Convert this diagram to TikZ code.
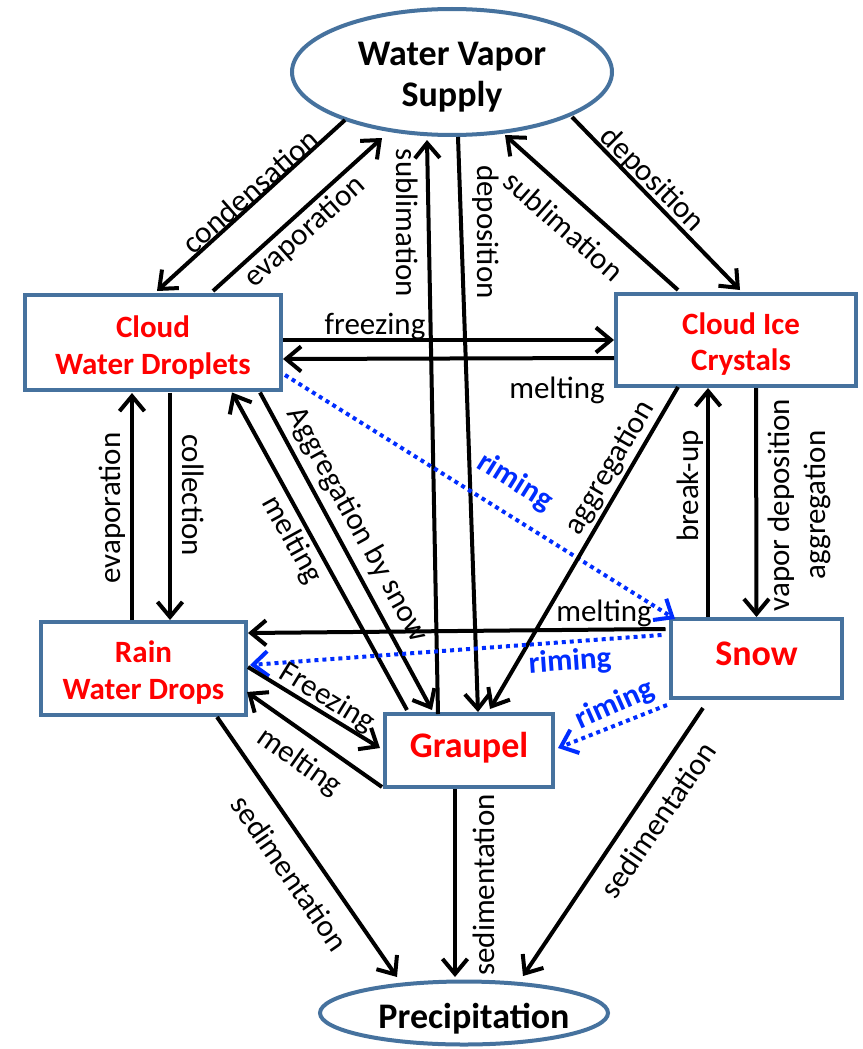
\documentclass[tikz,border=0pt]{standalone}
\usepackage{fontspec}
\setmainfont{Carlito}
\usetikzlibrary{arrows.meta,shapes.geometric}
\definecolor{bordercol}{RGB}{70,114,158}
\definecolor{rimeblue}{RGB}{0,45,255}
\definecolor{boxred}{RGB}{255,0,0}
\begin{document}
\begin{tikzpicture}[x=1pt,y=-1pt,
  conn/.style={line width=4pt, -{Straight Barb[length=15pt,width=25pt]}},
  rime/.style={conn, draw=rimeblue, dash pattern=on 4pt off 4pt},
  box/.style={draw=bordercol, line width=4pt, fill=white, inner sep=0pt},
  oval/.style={ellipse, draw=bordercol, line width=4pt, fill=white, inner sep=0pt},
  boxtext/.style={inner sep=0pt, align=center, text=boxred, font=\bfseries\fontsize{31}{36.5}\selectfont},
  bigtext/.style={inner sep=0pt, align=center, text=boxred, font=\bfseries\fontsize{36}{41}\selectfont},
  ovaltext/.style={inner sep=0pt, align=center, font=\bfseries\fontsize{36}{40.5}\selectfont},
  lab/.style={inner sep=0pt, font=\fontsize{31}{36}\selectfont},
  rlab/.style={inner sep=0pt, text=rimeblue, font=\bfseries\fontsize{31}{36}\selectfont}]
\fill[white] (0,0) rectangle (862,1049);
\useasboundingbox (0,0) rectangle (862,1049);

% shapes
\node[oval, minimum width=320pt, minimum height=126pt] (wvs) at (452,72) {};
\node[box, minimum width=256pt, minimum height=95pt] (cwd) at (153,342.5) {};
\node[box, minimum width=240pt, minimum height=92pt] (cic) at (736,340) {};
\node[box, minimum width=205pt, minimum height=93pt] (rwd) at (143.5,668.5) {};
\node[box, minimum width=171pt, minimum height=79pt] (snow) at (756.5,658.5) {};
\node[box, minimum width=168pt, minimum height=73pt] (gr) at (469,750.5) {};
\node[oval, minimum width=288pt, minimum height=63pt] (prec) at (464,1013) {};

% texts of the shapes
\node[ovaltext] (wvst) at ([shift={(0,5)}]wvs.center) {Water Vapor\\Supply};
\node[boxtext] (cwdt) at ([shift={(0,5)}]cwd.center) {Cloud\\Water Droplets};
\node[boxtext] (cict) at ([shift={(5,4)}]cic.center) {Cloud Ice\\Crystals};
\node[boxtext] (rwdt) at ([shift={(0,4)}]rwd.center) {Rain\\Water Drops};
\node[bigtext] (snowt) at ([shift={(0,-5)}]snow.center) {Snow};
\node[bigtext] (grt) at ([shift={(0,-2.5)}]gr.center) {Graupel};
\node[ovaltext] (prect) at ([shift={(10,6)}]prec.center) {Precipitation};

% connectors
\draw[conn] ([shift={(-107,48)}]wvs.center) -- ([shift={(4,-51.5)}]cwd.center);
\draw[conn] ([shift={(60,-51.5)}]cwd.center) -- ([shift={(-70,66)}]wvs.center);
\draw[conn] ([shift={(-31,-36.5)}]gr.center) -- ([shift={(-25,68)}]wvs.center);
\draw[conn] ([shift={(6,65)}]wvs.center) -- ([shift={(9,-38.5)}]gr.center);
\draw[conn] ([shift={(-58,-50)}]cic.center) -- ([shift={(53,63)}]wvs.center);
\draw[conn] ([shift={(120,45)}]wvs.center) -- ([shift={(4,-50)}]cic.center);
\draw[conn] ([shift={(130,-2.5)}]cwd.center) -- ([shift={(-122,0)}]cic.center);
\draw[conn] ([shift={(-122,18)}]cic.center) -- ([shift={(130,16.5)}]cwd.center);
\draw[conn] ([shift={(-11.5,-48.5)}]rwd.center) -- ([shift={(-21,50.5)}]cwd.center);
\draw[conn] ([shift={(17,50)}]cwd.center) -- ([shift={(26.5,-48.5)}]rwd.center);
\draw[conn] ([shift={(-62,-40.5)}]gr.center) -- ([shift={(79,50)}]cwd.center);
\draw[conn] ([shift={(107,50)}]cwd.center) -- ([shift={(-37,-40.5)}]gr.center);
\draw[rime] ([shift={(132,32.5)}]cwd.center) -- ([shift={(-81.5,-39.5)}]snow.center);
\draw[conn] ([shift={(-58,47)}]cic.center) -- ([shift={(21,-41.5)}]gr.center);
\draw[conn] ([shift={(-48.5,-41.5)}]snow.center) -- ([shift={(-28,48)}]cic.center);
\draw[conn] ([shift={(20,48)}]cic.center) -- ([shift={(0,-41.5)}]snow.center);
\draw[conn] ([shift={(-91,-29.5)}]snow.center) -- ([shift={(104.5,-35.5)}]rwd.center);
\draw[rime] ([shift={(-95,-23.5)}]snow.center) -- ([shift={(106.5,-3.5)}]rwd.center);
\draw[conn] ([shift={(104.5,-1.5)}]rwd.center) -- ([shift={(-89,-2.5)}]gr.center);
\draw[conn] ([shift={(-87,36.5)}]gr.center) -- ([shift={(103.5,23.5)}]rwd.center);
\draw[rime] ([shift={(-89.5,46.5)}]snow.center) -- ([shift={(89,-2.5)}]gr.center);
\draw[conn] ([shift={(73.5,48.5)}]rwd.center) -- ([shift={(-67,-36)}]prec.center);
\draw[conn] ([shift={(-14,38.5)}]gr.center) -- ([shift={(-9,-36)}]prec.center);
\draw[conn] ([shift={(-53.5,49.5)}]snow.center) -- ([shift={(59,-37)}]prec.center);

% labels
\node[lab, rotate=41.3] (l1) at (250,191) {condensation};
\node[lab, rotate=41.6] (l2) at (305,232) {evaporation};
\node[lab, rotate=-90] (l3) at (407,223) {sublimation};
\node[lab, rotate=-90] (l4) at (486,232) {deposition};
\node[lab, rotate=-41.5] (l5) at (564,226) {sublimation};
\node[lab, rotate=-45] (l6) at (652,180) {deposition};
\node[lab] (l7) at (375,326) {freezing};
\node[lab] (l8) at (557,390) {melting};
\node[lab, rotate=90] (l9) at (112,508) {evaporation};
\node[lab, rotate=-90] (l10) at (193,495) {collection};
\node[lab, rotate=-61.2] (l11) at (292,540) {melting};
\node[lab, rotate=-61.2] (l12) at (357,525) {Aggregation by snow};
\node[rlab, rotate=-32] (l13) at (515,482) {riming};
\node[lab, rotate=59.7] (l14) at (610,468) {aggregation};
\node[lab, rotate=90] (l15) at (690,486) {break-up};
\node[lab, rotate=90, align=center] (l16) at (799,505) {vapor deposition\\aggregation};
\node[lab] (l17) at (604,613) {melting};
\node[rlab, rotate=4] (l18) at (570,662) {riming};
\node[lab, rotate=-31.5] (l19) at (327,698) {Freezing};
\node[lab, rotate=-35.3] (l20) at (299,762) {melting};
\node[rlab, rotate=24] (l21) at (615,705) {riming};
\node[lab, rotate=-55.3] (l22) at (290,873) {sedimentation};
\node[lab, rotate=90] (l23) at (484,885) {sedimentation};
\node[lab, rotate=55.6] (l24) at (658,820) {sedimentation};
\end{tikzpicture}
\end{document}
